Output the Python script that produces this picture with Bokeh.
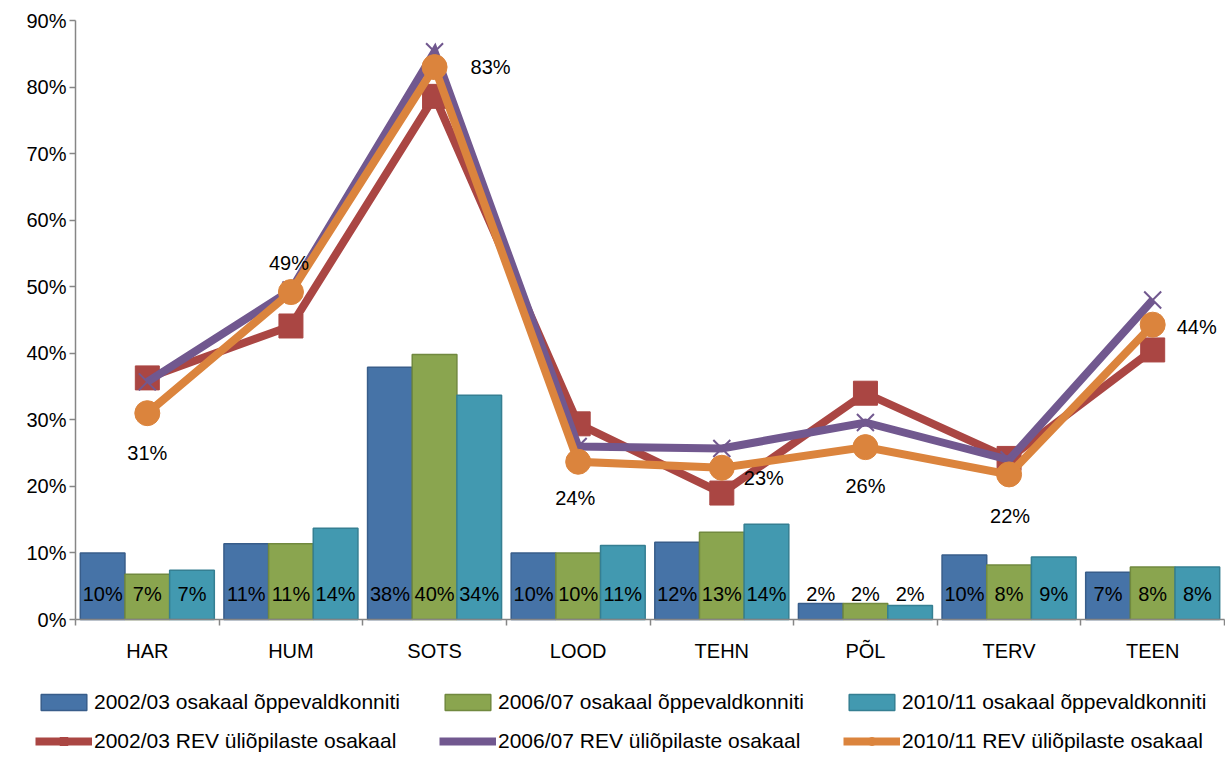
import numpy as np
from bokeh.plotting import figure
from bokeh.models import (ColumnDataSource, Range1d, FixedTicker, LinearAxis,
                          Legend, LegendItem)
from bokeh.core.properties import value
from bokeh.transform import dodge
from bokeh.embed import file_html
from bokeh.resources import INLINE

# ---------------- data ----------------
categories = ["HAR", "HUM", "SOTS", "LOOD", "TEHN", "PÕL", "TERV", "TEEN"]

share_0203 = [10.0, 11.4, 37.9, 10.0, 11.6, 2.4, 9.7, 7.1]
share_0607 = [6.8, 11.4, 39.8, 10.0, 13.1, 2.4, 8.2, 7.9]
share_1011 = [7.4, 13.7, 33.7, 11.1, 14.3, 2.1, 9.4, 7.9]

rev_0203 = [36.3, 44.1, 78.6, 29.4, 19.0, 34.0, 24.2, 40.5]
rev_0607 = [35.7, 49.5, 85.3, 26.0, 25.7, 29.6, 24.0, 48.0]
rev_1011 = [31.0, 49.2, 83.0, 23.7, 22.8, 25.9, 21.8, 44.3]

y_ticks = [0, 10, 20, 30, 40, 50, 60, 70, 80, 90]

bar_names = ["2002/03 osakaal õppevaldkonniti",
             "2006/07 osakaal õppevaldkonniti",
             "2010/11 osakaal õppevaldkonniti"]
line_names = ["2002/03 REV üliõpilaste osakaal",
              "2006/07 REV üliõpilaste osakaal",
              "2010/11 REV üliõpilaste osakaal"]

# ---------------- style ----------------
FONT = "Liberation Sans"
bar_fill = ["#4673A7", "#8AA54F", "#4299B0"]
bar_line = ["#385D8A", "#71893F", "#357F92"]
line_col = ["#AA4643", "#71588F", "#DB843D"]
markers = ["square", "x", "circle"]
marker_size = [24, 24, 25]
bar_w = 0.311
bar_off = [-0.311, 0.0, 0.311]
# label offsets (screen px) for the 2010/11 REV labels
lab_dx = [0, -2, 56, -3, 42, 0, 1, 44]
lab_dy = [40, -29, 0, 36, 10, 39, 42, 2]
legend_col_x = [35, 439, 843]

# canvas geometry: plot area 75..1224 px wide, 0 % at y=619, 90 % at y=20
W, H = 1225, 758
PX_LEFT, PX_RIGHT, PX_TOP, PX_ZERO = 75, 1224, 20, 619
n = len(categories)
ux = (PX_RIGHT - PX_LEFT) / n
uy = (PX_ZERO - PX_TOP) / 90
x_lo = -PX_LEFT / ux
x_hi = n + (W - PX_RIGHT) / ux
y_lo = -(H - PX_ZERO) / uy
y_hi = 90 + PX_TOP / uy

x_centers = np.arange(n) + 0.5

src = ColumnDataSource(dict(
    x=x_centers, cat=categories,
    b0=share_0203, b1=share_0607, b2=share_1011,
    l0=[f"{round(v)}%" for v in share_0203],
    l1=[f"{round(v)}%" for v in share_0607],
    l2=[f"{round(v)}%" for v in share_1011],
    r0=rev_0203, r1=rev_0607, r2=rev_1011,
    rl=[f"{round(v)}%" for v in rev_1011],
    dx=lab_dx, dy=lab_dy,
))

p = figure(width=W, height=H, output_backend="svg", toolbar_location=None,
           x_range=Range1d(x_lo, x_hi), y_range=Range1d(y_lo, y_hi),
           x_axis_location=None, y_axis_location=None,
           min_border_left=0, min_border_right=0, min_border_top=0,
           min_border_bottom=0)
p.outline_line_color = None
p.xgrid.visible = False
p.ygrid.visible = False

# axes (fixed inside the frame)
yax = LinearAxis(ticker=FixedTicker(ticks=y_ticks, minor_ticks=[]),
                 major_label_overrides={t: f"{t}%" for t in y_ticks},
                 fixed_location=0, bounds=(0, 90))
yax.axis_line_color = "#868686"
yax.axis_line_width = 1.5
yax.major_tick_line_color = "#868686"
yax.major_tick_line_width = 1.5
yax.major_tick_out = 6
yax.major_tick_in = 0
yax.minor_tick_line_color = None
yax.major_label_standoff = 3
yax.major_label_text_font = FONT
yax.major_label_text_font_size = "20px"
yax.major_label_text_color = "black"
p.add_layout(yax, "left")

xax = LinearAxis(ticker=FixedTicker(ticks=list(x_centers),
                                    minor_ticks=list(range(n + 1))),
                 major_label_overrides={float(c): s for c, s in zip(x_centers, categories)},
                 fixed_location=0, bounds=(0, n))
xax.axis_line_color = "#868686"
xax.axis_line_width = 1.5
xax.major_tick_line_color = None
xax.minor_tick_line_color = "#868686"
xax.minor_tick_line_width = 1.5
xax.minor_tick_out = 6
xax.minor_tick_in = 0
xax.major_tick_out = 6
xax.major_label_standoff = 14
xax.major_label_text_font = FONT
xax.major_label_text_font_size = "20px"
xax.major_label_text_color = "black"
p.add_layout(xax, "below")

# bars
bar_r = []
for i, key in enumerate(["b0", "b1", "b2"]):
    r = p.vbar(x=dodge("x", bar_off[i], range=p.x_range), top=key, bottom=0,
               width=bar_w, source=src, fill_color=bar_fill[i],
               line_color=bar_line[i], line_width=1.5)
    bar_r.append(r)
    p.text(x=dodge("x", bar_off[i], range=p.x_range), y=0, text=f"l{i}",
           source=src, y_offset=-26, text_align="center", text_baseline="middle",
           text_font=value(FONT), text_font_size="20px", text_color="black")

# lines
line_r = []
for i, key in enumerate(["r0", "r1", "r2"]):
    rl = p.line("x", key, source=src, line_color=line_col[i], line_width=8,
                line_join="miter")
    if markers[i] == "x":
        rm = p.scatter("x", key, source=src, marker="x", size=marker_size[i],
                       line_color=line_col[i], line_width=2)
    else:
        rm = p.scatter("x", key, source=src, marker=markers[i], size=marker_size[i],
                       fill_color=line_col[i], line_color=line_col[i])
    line_r.append([rl, rm])

p.text(x="x", y="r2", text="rl", source=src, x_offset="dx", y_offset="dy",
       text_align="center", text_baseline="middle",
       text_font=value(FONT), text_font_size="20px", text_color="black")

# legend: three columns of two rows under the chart
for i in range(3):
    lg = Legend(items=[LegendItem(label=bar_names[i], renderers=[bar_r[i]]),
                       LegendItem(label=line_names[i], renderers=line_r[i])],
                location=(legend_col_x[i], 5), orientation="vertical")
    lg.border_line_color = None
    lg.background_fill_alpha = 0
    lg.padding = 0
    lg.margin = 0
    lg.spacing = 15
    lg.glyph_width = 57
    lg.glyph_height = 20
    lg.label_height = 20
    lg.label_standoff = 2
    lg.label_text_font = FONT
    lg.label_text_font_size = "21px"
    lg.label_text_color = "black"
    p.add_layout(lg, "center")

open("out.html", "w").write(file_html(p, INLINE))
